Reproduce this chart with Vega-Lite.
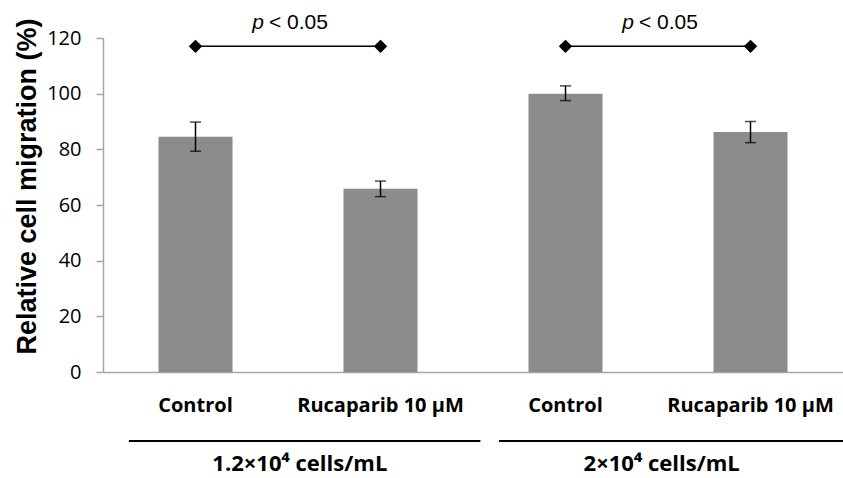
{
  "$schema": "https://vega.github.io/schema/vega-lite/v6.json",
  "width": 740,
  "height": 334,
  "autosize": "none",
  "padding": {"left": 103, "top": 38, "right": 0, "bottom": 106},
  "background": "white",
  "config": {"view": {"stroke": null}, "font": "Open Sans"},
  "layer": [
    {
      "data": {"values": [
        {"cat": "Control|1", "mean": 84.5, "lo": 79.3, "hi": 89.8},
        {"cat": "Rucaparib  10 μM|1", "mean": 65.8, "lo": 63.0, "hi": 68.6},
        {"cat": "Control|2", "mean": 100.0, "lo": 97.5, "hi": 102.8},
        {"cat": "Rucaparib  10 μM|2", "mean": 86.2, "lo": 82.4, "hi": 90.0}
      ]},
      "layer": [
        {
          "mark": {"type": "bar", "color": "#8c8c8c"},
          "encoding": {
            "x": {
              "field": "cat", "type": "nominal",
              "scale": {"domain": ["Control|1", "Rucaparib  10 μM|1", "Control|2", "Rucaparib  10 μM|2"], "paddingInner": 0.6, "paddingOuter": 0.3},
              "axis": {
                "title": null, "domainColor": "#a6a6a6", "domainWidth": 1.5, "ticks": false,
                "labelExpr": "split(datum.label, '|')[0]", "labelFont": "Open Sans", "labelFontWeight": "bold",
                "labelFontSize": 20, "labelColor": "black", "labelPadding": 39, "labelBaseline": "alphabetic", "labelAngle": 0
              }
            },
            "y": {
              "field": "mean", "type": "quantitative",
              "scale": {"domain": [0, 120], "nice": false},
              "axis": {
                "title": "Relative cell migration (%)", "values": [0, 20, 40, 60, 80, 100, 120], "grid": false,
                "domainColor": "#a6a6a6", "domainWidth": 1.5, "tickColor": "#a6a6a6", "tickWidth": 1.5, "tickSize": 7,
                "labelFont": "Open Sans", "labelFontSize": 20, "labelColor": "black", "labelPadding": 15,
                "titleFont": "Liberation Sans", "titleFontSize": 27, "titleFontWeight": "bold", "titleColor": "black",
                "titleAngle": -90, "titleX": -68, "titleY": 148, "titleAlign": "center", "titleBaseline": "alphabetic"
              }
            }
          }
        },
        {
          "mark": {"type": "rule", "color": "black", "strokeWidth": 1.5},
          "encoding": {
            "x": {"field": "cat", "type": "nominal", "axis": {"title": null}},
            "y": {"field": "lo", "type": "quantitative"},
            "y2": {"field": "hi"}
          }
        },
        {
          "mark": {"type": "tick", "color": "black", "size": 11, "thickness": 1.5},
          "encoding": {
            "x": {"field": "cat", "type": "nominal", "axis": {"title": null}},
            "y": {"field": "lo", "type": "quantitative"}
          }
        },
        {
          "mark": {"type": "tick", "color": "black", "size": 11, "thickness": 1.5},
          "encoding": {
            "x": {"field": "cat", "type": "nominal", "axis": {"title": null}},
            "y": {"field": "hi", "type": "quantitative"}
          }
        }
      ]
    },
    {
      "data": {"values": [
        {"cat": "Control|1", "cat2": "Rucaparib  10 μM|1", "y": 117},
        {"cat": "Control|2", "cat2": "Rucaparib  10 μM|2", "y": 117}
      ]},
      "mark": {"type": "rule", "color": "black", "strokeWidth": 1.5},
      "encoding": {
        "x": {"field": "cat", "type": "nominal", "axis": {"title": null}},
        "x2": {"field": "cat2"},
        "y": {"field": "y", "type": "quantitative"}
      }
    },
    {
      "data": {"values": [
        {"cat": "Control|1", "y": 117},
        {"cat": "Rucaparib  10 μM|1", "y": 117},
        {"cat": "Control|2", "y": 117},
        {"cat": "Rucaparib  10 μM|2", "y": 117}
      ]},
      "mark": {"type": "point", "shape": "diamond", "filled": true, "color": "black", "opacity": 1, "size": 180},
      "encoding": {
        "x": {"field": "cat", "type": "nominal", "axis": {"title": null}},
        "y": {"field": "y", "type": "quantitative"}
      }
    },
    {
      "data": {"values": [
        {"cat": "Control|1", "y": 123.2, "p": "p", "rest": "< 0.05"},
        {"cat": "Control|2", "y": 123.2, "p": "p", "rest": "< 0.05"}
      ]},
      "layer": [
        {
          "mark": {"type": "text", "font": "Liberation Sans", "fontSize": 21, "fontStyle": "italic", "color": "black", "align": "right", "baseline": "alphabetic", "dx": -24},
          "encoding": {
            "x": {"field": "cat", "type": "nominal", "bandPosition": 1.75, "axis": {"title": null}},
            "y": {"field": "y", "type": "quantitative"},
            "text": {"field": "p"}
          }
        },
        {
          "mark": {"type": "text", "font": "Liberation Sans", "fontSize": 21, "color": "black", "align": "left", "baseline": "alphabetic", "dx": -19},
          "encoding": {
            "x": {"field": "cat", "type": "nominal", "bandPosition": 1.75, "axis": {"title": null}},
            "y": {"field": "y", "type": "quantitative"},
            "text": {"field": "rest"}
          }
        }
      ]
    },
    {
      "data": {"values": [
        {"cat": "Control|1", "cat2": "Rucaparib  10 μM|1", "y": -24.8},
        {"cat": "Control|2", "cat2": "Rucaparib  10 μM|2", "y": -24.8}
      ]},
      "mark": {"type": "rule", "color": "black", "strokeWidth": 2},
      "encoding": {
        "x": {"field": "cat", "type": "nominal", "bandPosition": -0.4, "axis": {"title": null}},
        "x2": {"field": "cat2", "bandPosition": 1.85},
        "y": {"field": "y", "type": "quantitative"}
      }
    },
    {
      "data": {"values": [
        {"cat": "Control|1", "y": -35.6, "label": "1.2×10⁴  cells/mL"}
      ]},
      "mark": {"type": "text", "font": "Open Sans", "fontSize": 22, "fontWeight": "bold", "color": "black", "baseline": "alphabetic"},
      "encoding": {
        "x": {"field": "cat", "type": "nominal", "bandPosition": 1.91, "axis": {"title": null}},
        "y": {"field": "y", "type": "quantitative"},
        "text": {"field": "label"}
      }
    },
    {
      "data": {"values": [
        {"cat": "Control|2", "y": -35.6, "label": "2×10⁴ cells/mL"}
      ]},
      "mark": {"type": "text", "font": "Open Sans", "fontSize": 22, "fontWeight": "bold", "color": "black", "baseline": "alphabetic"},
      "encoding": {
        "x": {"field": "cat", "type": "nominal", "bandPosition": 1.8, "axis": {"title": null}},
        "y": {"field": "y", "type": "quantitative"},
        "text": {"field": "label"}
      }
    }
  ]
}
